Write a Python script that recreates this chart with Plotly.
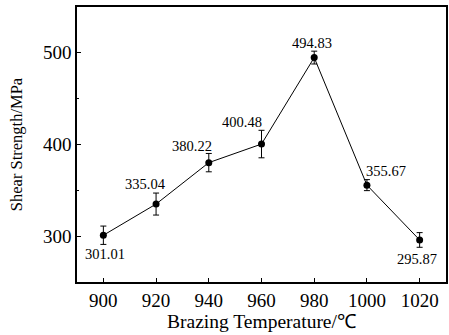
import plotly.graph_objects as go

temps = [900, 920, 940, 960, 980, 1000, 1020]
strength = [301.01, 335.04, 380.22, 400.48, 494.83, 355.67, 295.87]
errors = [10, 12, 10, 15, 7, 6, 8]
labels = ["301.01", "335.04", "380.22", "400.48", "494.83", "355.67", "295.87"]
x_ticks = [900, 920, 940, 960, 980, 1000, 1020]
y_ticks = [300, 400, 500]

# label pixel offsets (dx, dy)
offsets = [(2, -19), (-11, 20), (-17, 17), (-20, 22), (-2, 15), (19, 14), (-3, -19)]

FONT = "Liberation Serif"

fig = go.Figure()
fig.add_trace(go.Scatter(
    x=temps, y=strength, mode="lines+markers",
    line=dict(color="black", width=1),
    marker=dict(color="black", size=7, symbol="circle"),
    error_y=dict(type="data", array=errors, visible=True, color="black", thickness=1, width=3),
    showlegend=False,
))

for t, v, lab, (dx, dy) in zip(temps, strength, labels, offsets):
    fig.add_annotation(x=t, y=v, text=lab, showarrow=False, xshift=dx, yshift=dy,
                       font=dict(family=FONT, size=14.5, color="black"))

fig.update_layout(
    width=449, height=335,
    margin=dict(l=77, r=3, t=7, b=53),
    plot_bgcolor="white", paper_bgcolor="white",
    font=dict(family=FONT, color="black"),
)
fig.update_xaxes(
    range=[890, 1030], tickvals=x_ticks, ticktext=[str(v) for v in x_ticks],
    ticks="inside", ticklen=4, tickwidth=1, tickcolor="black",
    showline=True, linecolor="black", linewidth=1.5, mirror=True,
    showgrid=False, zeroline=False, automargin=False,
    tickfont=dict(family=FONT, size=19),
    title=dict(text="Brazing Temperature/℃", font=dict(family=FONT, size=19.5), standoff=4),
)
fig.update_yaxes(
    range=[250, 550], tickvals=y_ticks,
    ticks="inside", ticklen=4, tickwidth=1, tickcolor="black",
    minor=dict(tickvals=[350, 450], ticks="inside", ticklen=2, tickcolor="black"),
    showline=True, linecolor="black", linewidth=1.5, mirror=True,
    showgrid=False, zeroline=False, automargin=False,
    tickfont=dict(family=FONT, size=19),
    title=dict(text="Shear Strength/MPa", font=dict(family=FONT, size=16.5), standoff=16),
)

fig.write_html("out.html", config={"displayModeBar": False},
               post_script="document.body.style.margin='0';")
